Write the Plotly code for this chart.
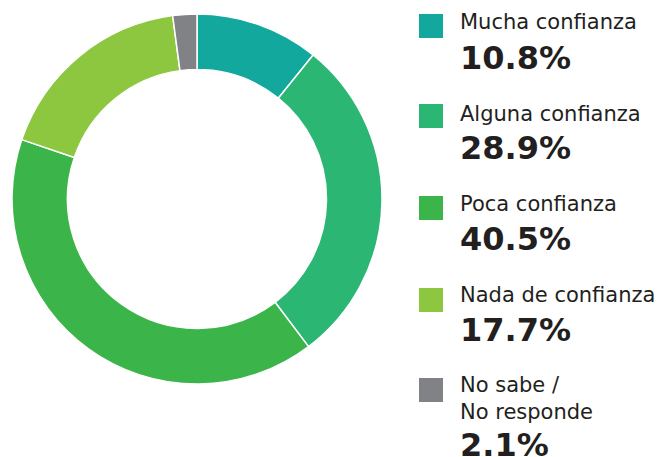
import plotly.graph_objects as go

W, H = 659, 457

labels = [
    "Mucha confianza",
    "Alguna confianza",
    "Poca confianza",
    "Nada de confianza",
    "No sabe /<br>No responde",
]
values = [10.8, 28.9, 40.5, 17.7, 2.1]
colors = ["#12A89D", "#2BB673", "#3BB44A", "#8DC63F", "#808285"]


def px(x):
    return x / W


def py(y):
    return 1 - y / H


fig = go.Figure()
fig.add_trace(
    go.Pie(
        labels=labels,
        values=values,
        hole=0.70,
        sort=False,
        direction="clockwise",
        rotation=0,
        marker=dict(colors=colors, line=dict(color="white", width=1.5)),
        textinfo="none",
        showlegend=False,
        domain=dict(x=[px(12), px(382)], y=[py(384), py(14)]),
    )
)

# hand-built legend: square, label, bold percentage
square_y = [26, 116, 208, 300, 390]
label_y = [22, 114, 204, 295, 398]
pct_y = [58, 148, 239, 330, 445]
for i, (lab, val, col) in enumerate(zip(labels, values, colors)):
    fig.add_shape(
        type="rect",
        xref="paper", yref="paper",
        x0=px(419), x1=px(443), y0=py(square_y[i] + 12), y1=py(square_y[i] - 12),
        fillcolor=col, line=dict(width=0),
    )
    fig.add_annotation(
        xref="paper", yref="paper",
        x=px(458), y=py(label_y[i]),
        xanchor="left", yanchor="middle",
        text=lab, showarrow=False, align="left",
        font=dict(family="DejaVu Sans", size=21, color="#231F20"),
    )
    fig.add_annotation(
        xref="paper", yref="paper",
        x=px(458), y=py(pct_y[i]),
        xanchor="left", yanchor="middle",
        text=f"<b>{val:.1f}%</b>", showarrow=False,
        font=dict(family="DejaVu Sans", size=32, color="#231F20"),
    )

fig.update_layout(
    width=W,
    height=H,
    margin=dict(l=0, r=0, t=0, b=0),
    paper_bgcolor="white",
    plot_bgcolor="white",
)

# drop the page's default body margin so the figure fills the window
fig.write_html(
    "out.html",
    config={"displayModeBar": False},
    post_script="document.body.style.margin='0';document.body.style.overflow='hidden';",
)
